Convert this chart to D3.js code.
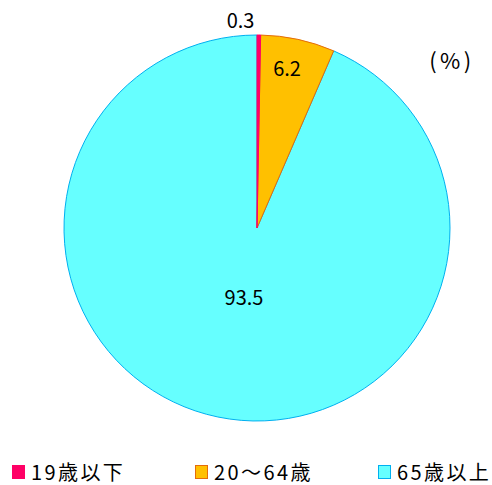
<!DOCTYPE html>
<html>
<head>
<meta charset="utf-8">
<script src="https://cdn.jsdelivr.net/npm/d3@7"></script>
<style>
body{margin:0;background:#fff;}
text{font-family:"Noto Sans CJK JP","Noto Sans",sans-serif;fill:#000;}
</style>
</head>
<body>
<div id="wrapper"></div>
<script>
// Data
const categories=['19歳以下','20〜64歳','65歳以上'];
const values=[0.3,6.2,93.5];
const labels=['0.3','6.2','93.5'];
const fills=['#FF0066','#FFC000','#66FFFF'];
const strokes=['#FF0066','#E46C0A','#00B0F0'];

// Dimension
const dimensions={width:492,height:485,cx:257,cy:228,radius:193};

const svg=d3.select('#wrapper').append('svg')
    .attr('width',dimensions.width).attr('height',dimensions.height);
const pieGroup=svg.append('g')
    .attr('transform',`translate(${dimensions.cx},${dimensions.cy})`);

const pie=d3.pie().sort(null).value(d=>d);
const arcs=pie(values);
const arc=d3.arc().innerRadius(0).outerRadius(dimensions.radius);

// Draw slices (big one first so small borders sit on top)
pieGroup.selectAll('path')
    .data(arcs.map((d,i)=>({d,i})).reverse())
    .enter().append('path')
    .attr('d',o=>arc(o.d))
    .attr('fill',o=>fills[o.i])
    .attr('stroke',o=>strokes[o.i])
    .attr('stroke-width',1);

// Slice labels: radius as fraction of pie radius, plus small angle nudge
const labelLayout=[{r:1.076,da:-0.089},{r:0.838,da:-0.027},{r:0.369,da:-0.02}];
const labelPos=(d,i)=>{
    const a=(d.startAngle+d.endAngle)/2+labelLayout[i].da;
    const r=dimensions.radius*labelLayout[i].r;
    return [Math.sin(a)*r,-Math.cos(a)*r];
};
pieGroup.selectAll('text.val')
    .data(arcs).enter().append('text')
    .attr('class','val')
    .attr('text-anchor','middle')
    .attr('font-size','20px')
    .attr('x',(d,i)=>labelPos(d,i)[0])
    .attr('y',(d,i)=>labelPos(d,i)[1]+7)
    .text((d,i)=>labels[i]);

// Unit
svg.append('text').attr('x',452).attr('y',69)
    .attr('text-anchor','middle').attr('font-size','22px')
    .attr('letter-spacing','3.5px').text('(%)');

// Legend
const legendX=d3.scalePoint().domain(categories).range([12,378]);
const legend=svg.selectAll('g.legend')
    .data(categories).enter().append('g')
    .attr('class','legend')
    .attr('transform',d=>`translate(${legendX(d)},465)`);
legend.append('rect')
    .attr('x',0.5).attr('y',0.5).attr('width',12).attr('height',13)
    .attr('fill',(d,i)=>fills[i]).attr('stroke',(d,i)=>strokes[i]);
legend.append('text')
    .attr('x',19).attr('y',15)
    .attr('font-size','20px')
    .attr('letter-spacing','2.4px')
    .text(d=>d);
</script>
</body>
</html>
